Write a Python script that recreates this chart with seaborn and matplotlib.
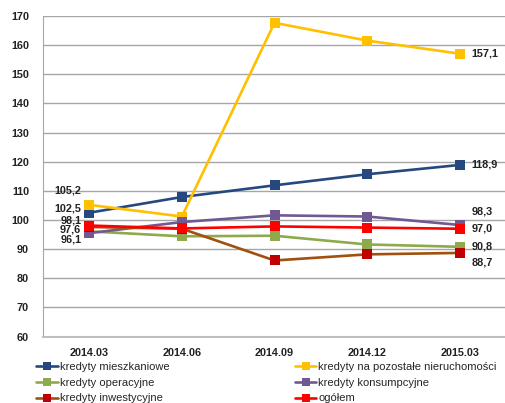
import pandas as pd
import numpy as np
import matplotlib
matplotlib.use("Agg")
import matplotlib.pyplot as plt
import seaborn as sns
from matplotlib.lines import Line2D

# quarters and index values
quarters = ["2014.03", "2014.06", "2014.09", "2014.12", "2015.03"]
mieszkaniowe = [102.5, 107.9, 111.9, 115.7, 118.9]
nieruchomosci = [105.2, 101.2, 167.7, 161.6, 157.1]
operacyjne = [96.1, 94.4, 94.6, 91.6, 90.8]
konsumpcyjne = [95.5, 99.3, 101.6, 101.2, 98.3]
inwestycyjne = [97.6, 97.0, 86.1, 88.2, 88.7]
ogolem = [98.1, 97.1, 97.8, 97.4, 97.0]

names = ["kredyty mieszkaniowe", "kredyty na pozostałe nieruchomości",
         "kredyty operacyjne", "kredyty konsumpcyjne",
         "kredyty inwestycyjne", "ogółem"]
values = [mieszkaniowe, nieruchomosci, operacyjne, konsumpcyjne, inwestycyjne, ogolem]
line_colors = ["#25487E", "#FFC000", "#8EAA4C", "#715892", "#A0500F", "#FF0000"]
marker_colors = ["#25487E", "#FFC000", "#8EAA4C", "#715892", "#C00000", "#FF0000"]

df = pd.DataFrame({
    "kwartal": quarters * len(names),
    "seria": np.repeat(names, len(quarters)),
    "wartosc": np.concatenate(values),
})

sns.set_style("white")
plt.rcParams["font.family"] = ["Liberation Sans", "DejaVu Sans"]

fig = plt.figure(figsize=(5.06, 4.03), dpi=100)
ax = fig.add_axes([0.085, 0.165, 0.915, 0.795])

sns.lineplot(data=df, x="kwartal", y="wartosc", hue="seria", hue_order=names,
             palette=dict(zip(names, line_colors)), marker="s", markersize=6.5,
             linewidth=1.9, dashes=False, legend=False, ax=ax, sort=False)

for ln, mc in zip(ax.lines, marker_colors):
    ln.set_markerfacecolor(mc)
    ln.set_markeredgecolor(mc)
    ln.set_markeredgewidth(0)

ax.set_ylim(60, 170)
ax.set_yticks(range(60, 171, 10))
ax.set_xlim(-0.5, 4.46)
ax.set_xticks(range(len(quarters)))
ax.set_xticks(np.arange(-0.5, 4.6, 1), minor=True)
ax.set_xticklabels(quarters)
ax.set_xlabel("")
ax.set_ylabel("")
ax.yaxis.grid(True, color="#A6A6A6", linewidth=1)
ax.set_axisbelow(True)
for s in ["top", "right"]:
    ax.spines[s].set_visible(False)
ax.spines["left"].set_color("#A6A6A6")
ax.spines["bottom"].set_color("#BFBFBF")
ax.spines["bottom"].set_linewidth(1.5)
ax.tick_params(axis="x", which="major", length=0, pad=8)
ax.tick_params(axis="x", which="minor", length=4, color="#A6A6A6", direction="out")
ax.tick_params(axis="y", length=4, color="#A6A6A6", direction="out", pad=6)
for lab in ax.get_xticklabels() + ax.get_yticklabels():
    lab.set_fontsize(7.8)
    lab.set_fontweight("bold")
    lab.set_color("#222222")

# data labels: left side (first quarter) and right side (last quarter)
left_labels = [(nieruchomosci[0], 14), (mieszkaniowe[0], 4), (ogolem[0], 5),
               (inwestycyjne[0], -3), (operacyjne[0], -8)]
for v, dy in left_labels:
    ax.annotate(f"{v:.1f}".replace(".", ","), xy=(0, v), xytext=(-8, dy),
                textcoords="offset pixels", ha="right", va="center",
                fontsize=7.8, fontweight="bold", color="#222222")

right_labels = [(mieszkaniowe[-1], 0), (nieruchomosci[-1], 0), (konsumpcyjne[-1], 13),
                (ogolem[-1], 0), (operacyjne[-1], 0), (inwestycyjne[-1], -10)]
for v, dy in right_labels:
    ax.annotate(f"{v:.1f}".replace(".", ","), xy=(4, v), xytext=(12, dy),
                textcoords="offset pixels", ha="left", va="center",
                fontsize=7.8, fontweight="bold", color="#222222")

handles = [Line2D([], [], color=lc, marker="s", markerfacecolor=mc, markeredgewidth=0,
                  markersize=6, linewidth=1.9) for lc, mc in zip(line_colors, marker_colors)]
order = [0, 2, 4, 1, 3, 5]
fig.legend([handles[i] for i in order], [names[i] for i in order], ncol=2,
           loc="upper left", bbox_to_anchor=(0.072, 0.101), frameon=False,
           fontsize=8, handlelength=1.9, handletextpad=0.2, labelspacing=0.5,
           columnspacing=11.3, borderaxespad=0, borderpad=0)

fig.savefig("out.png", dpi=100)
